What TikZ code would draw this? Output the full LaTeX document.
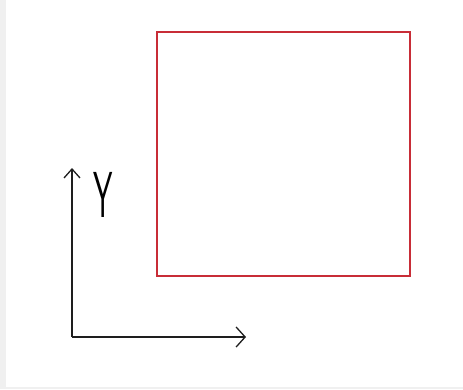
\documentclass[tikz,border=0pt]{standalone}
\usetikzlibrary{arrows.meta}
\definecolor{bgg}{RGB}{240,240,240}
\definecolor{boxred}{RGB}{200,45,55}
\definecolor{axisk}{RGB}{30,30,30}
\tikzset{
  axis/.style={draw=axisk, line width=1.8pt, -{Straight Barb[length=9pt,width=20pt,line width=1.3pt]}},
  redbox/.style={draw=boxred, line width=1.6pt},
}
\begin{document}
\begin{tikzpicture}[x=1pt,y=-1pt]
\fill[bgg] (0,0) rectangle (463,389);
\fill[white] (6,0) rectangle (463,387);
\useasboundingbox (0,0) rectangle (463,389);
\coordinate (o) at (72,337);
\coordinate (xe) at (246,337);
\coordinate (ye) at (72,168);
\draw[axis] (o) -- (xe);
\draw[axis, -{Straight Barb[length=9pt,width=16pt,line width=1.3pt]}] (o) -- (ye);
\draw[redbox] (157,32) rectangle (410,276);
\node[inner sep=0pt, anchor=base, xscale=0.62, yscale=1.3] (ylab) at (103.5,217) {\fontsize{50}{50}\selectfont\sffamily Y};
\end{tikzpicture}
\end{document}
